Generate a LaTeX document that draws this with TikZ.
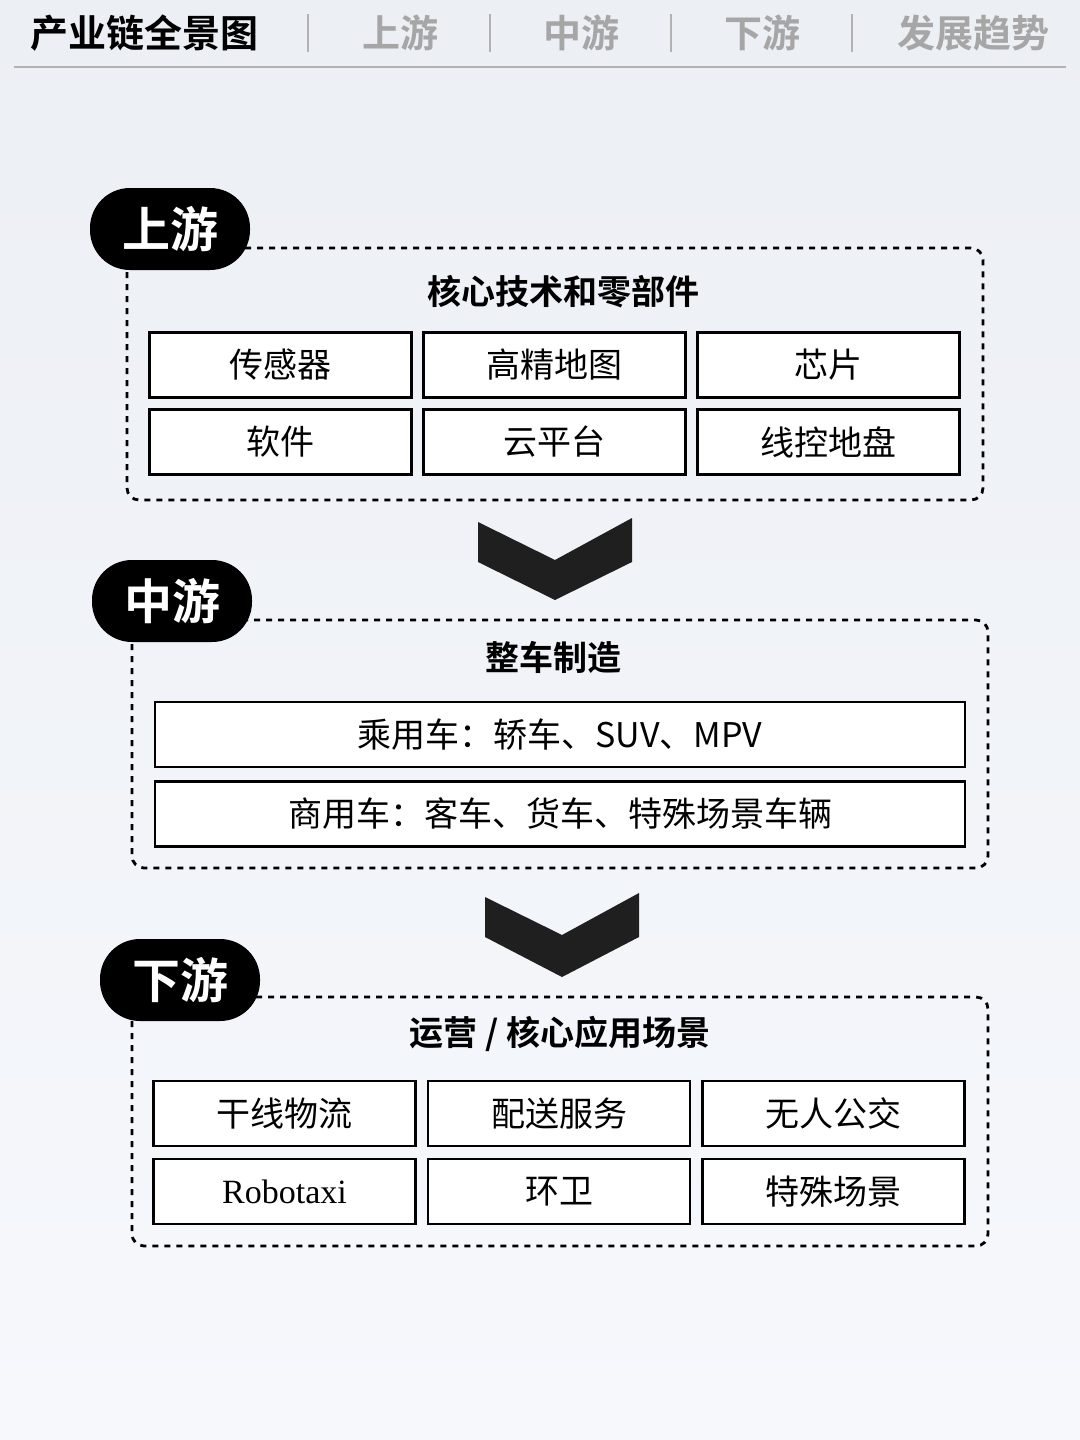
\documentclass[tikz,border=0pt]{standalone}
\usepackage{fontspec}
\setmainfont{Liberation Serif}
\newfontfamily\cjk{Noto Sans CJK SC}
\newfontfamily\cjkb{Noto Sans CJK SC Bold}
\begin{document}
\begin{tikzpicture}[x=0.5pt,y=-0.5pt,
  cell/.style={draw=black,line width=1.4pt,fill=white,minimum width=131pt,minimum height=32.5pt,inner sep=0pt,font=\cjk\fontsize{17}{17}\selectfont},
  wide/.style={cell,minimum width=405pt},
  group/.style={draw=black,dashed,line width=1.4pt,rounded corners=6pt},
  pill/.style={fill=black,rounded corners=20pt,text=white,minimum width=80pt,minimum height=41pt,inner sep=0pt,font=\cjkb\fontsize{24}{24}\selectfont},
  ttl/.style={font=\cjkb\fontsize{17}{17}\selectfont},
  tab/.style={text=black!35,font=\cjkb\fontsize{19}{19}\selectfont},
  sep/.style={draw=black!30,line width=0.8pt},
  chev/.style={fill=black!88}]
\useasboundingbox (0,0) rectangle (1080,1440);
\shade[top color={rgb,255:red,236;green,239;blue,244},bottom color={rgb,255:red,246;green,248;blue,252}] (0,0) rectangle (1080,1440);
% header
\node[font=\cjkb\fontsize{19}{19}\selectfont] (h0) at (145,33) {产业链全景图};
\node[tab] (h1) at (400,33) {上游};
\node[tab] (h2) at (581,33) {中游};
\node[tab] (h3) at (762,33) {下游};
\node[tab] (h4) at (973,33) {发展趋势};
\foreach \x in {308,490,671,852}{\draw[sep] (\x,14) -- (\x,52);}
\draw[draw=black!30,line width=1pt] (14,67) -- (1066,67);
% section 1
\draw[group] (127,248) rectangle (983,500);
\node[pill] (p1) at (170,229) {上游};
\node[ttl] (t1) at (563,292) {核心技术和零部件};
\node[cell] (a1) at (280.5,365) {传感器};
\node[cell] (a2) at (554.5,365) {高精地图};
\node[cell] (a3) at (828.5,365) {芯片};
\node[cell] (a4) at (280.5,442) {软件};
\node[cell] (a5) at (554.5,442) {云平台};
\node[cell] (a6) at (828.5,442) {线控地盘};
\fill[chev] (478,522) -- (555,560) -- (632,518) -- (632,562) -- (555,600) -- (478,562) -- cycle;
% section 2
\draw[group] (132,620) rectangle (988,868);
\node[pill] (p2) at (172,601) {中游};
\node[ttl] (t2) at (553,657) {整车制造};
\node[wide] (b1) at (560,734.5) {{\cjk 乘用车：轿车、}SUV{\cjk 、}MPV};
\node[wide] (b2) at (560,814) {商用车：客车、货车、特殊场景车辆};
\fill[chev] (485,897) -- (562,935) -- (639,893) -- (639,937) -- (562,977) -- (485,937) -- cycle;
% section 3
\draw[group] (132,997) rectangle (988,1246);
\node[pill] (p3) at (180,980) {下游};
\node[ttl] (t3) at (560,1034) {运营 / 核心应用场景};
\node[cell] (c1) at (284.5,1113.5) {干线物流};
\node[cell] (c2) at (559,1113.5) {配送服务};
\node[cell] (c3) at (833.5,1113.5) {无人公交};
\node[cell,font=\fontsize{17}{17}\selectfont] (c4) at (284.5,1191.5) {Robotaxi};
\node[cell] (c5) at (559,1191.5) {环卫};
\node[cell] (c6) at (833.5,1191.5) {特殊场景};
\end{tikzpicture}
\end{document}
